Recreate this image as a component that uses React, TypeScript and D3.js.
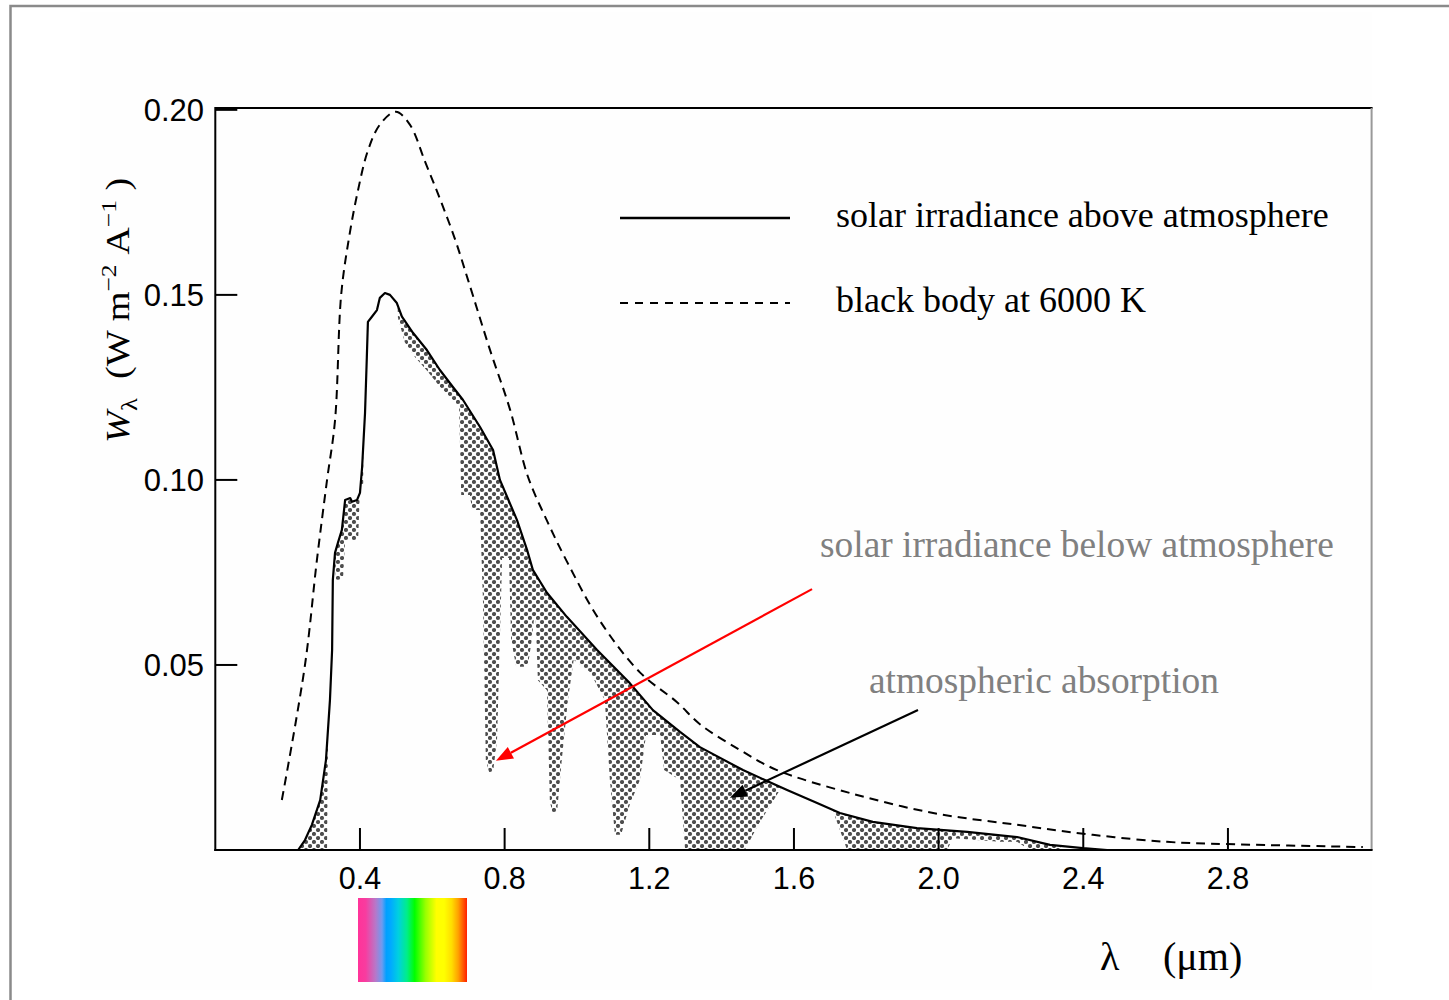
import React from 'react';
import * as d3 from 'd3';

const WIDTH = 1449;
const HEIGHT = 1000;

const xTicks = [0.4, 0.8, 1.2, 1.6, 2.0, 2.4, 2.8];
const yTicks = [0.05, 0.1, 0.15, 0.2];
const xTickLabels = ['0.4', '0.8', '1.2', '1.6', '2.0', '2.4', '2.8'];
const yTickLabels = ['0.05', '0.10', '0.15', '0.20'];

// black body at 6000 K (scaled), [wavelength um, W]
const blackBody: [number, number][] = [
  [0.184, 0.0135], [0.248, 0.05], [0.281, 0.0784], [0.309, 0.1], [0.331, 0.116],
  [0.348, 0.15], [0.369, 0.165], [0.394, 0.178], [0.422, 0.189], [0.455, 0.196],
  [0.499, 0.1995], [0.538, 0.196], [0.58, 0.186], [0.621, 0.176], [0.663, 0.165],
  [0.699, 0.154], [0.76, 0.135], [0.815, 0.119], [0.864, 0.101], [0.917, 0.089],
  [0.972, 0.078], [1.063, 0.062], [1.174, 0.048], [1.276, 0.04], [1.34, 0.034],
  [1.451, 0.027], [1.553, 0.0216], [1.755, 0.0154], [1.985, 0.01], [2.217, 0.0068],
  [2.426, 0.0041], [2.631, 0.0022], [2.797, 0.0016], [3.173, 0.0008],
];

// solar irradiance above atmosphere
const solarAbove: [number, number][] = [
  [0.229, 0], [0.248, 0.0027], [0.267, 0.0068], [0.29, 0.0135], [0.306, 0.0243],
  [0.317, 0.0405], [0.323, 0.0541], [0.325, 0.073], [0.331, 0.0803], [0.339, 0.083],
  [0.35, 0.0865], [0.359, 0.0946], [0.373, 0.0951], [0.378, 0.0941], [0.392, 0.0946],
  [0.4, 0.0965], [0.406, 0.1035], [0.414, 0.1181], [0.419, 0.1332], [0.422, 0.1427],
  [0.433, 0.1441], [0.447, 0.1459], [0.455, 0.1492], [0.469, 0.1505], [0.483, 0.15],
  [0.502, 0.1478], [0.516, 0.1441], [0.547, 0.1397], [0.585, 0.1351], [0.621, 0.1297],
  [0.657, 0.1251], [0.685, 0.1216], [0.732, 0.1143], [0.768, 0.1081], [0.787, 0.1],
  [0.807, 0.0954], [0.834, 0.0892], [0.862, 0.0811], [0.878, 0.0757], [0.917, 0.0695],
  [0.972, 0.063], [1.055, 0.0541], [1.146, 0.0451], [1.21, 0.0378], [1.285, 0.0319],
  [1.34, 0.0278], [1.459, 0.0216], [1.581, 0.0162], [1.664, 0.0127], [1.727, 0.01],
  [1.818, 0.0076], [1.94, 0.0059], [2.079, 0.0049], [2.217, 0.0035], [2.308, 0.0014],
  [2.399, 0.0005], [2.466, 0],
];

// solar irradiance below atmosphere (lower edge of the absorbed band)
const solarBelow: [number, number][] = [
  [0.201, 0], [0.309, 0], [0.314, 0.0568], [0.328, 0.0824], [0.334, 0.073],
  [0.353, 0.073], [0.359, 0.0838], [0.395, 0.0838], [0.4, 0.0981], [0.409, 0.0981],
  [0.411, 0.16], [0.5, 0.16], [0.505, 0.1438], [0.524, 0.1372], [0.552, 0.1332],
  [0.585, 0.1296], [0.621, 0.1252], [0.663, 0.121], [0.674, 0.1195], [0.68, 0.0959],
  [0.704, 0.0959], [0.71, 0.0919], [0.732, 0.0919], [0.74, 0.0676], [0.748, 0.0243],
  [0.757, 0.0211], [0.768, 0.0211], [0.779, 0.0297], [0.79, 0.0676], [0.793, 0.0789],
  [0.812, 0.0789], [0.818, 0.0568], [0.832, 0.0495], [0.864, 0.0495], [0.875, 0.0568],
  [0.881, 0.0622], [0.886, 0.0622], [0.892, 0.0459], [0.917, 0.0432], [0.925, 0.0135],
  [0.931, 0.0103], [0.945, 0.0103], [0.958, 0.0243], [0.975, 0.0405], [0.991, 0.0514],
  [1.036, 0.0481], [1.077, 0.0405], [1.091, 0.0189], [1.105, 0.0041], [1.122, 0.0041],
  [1.146, 0.0122], [1.174, 0.0189], [1.191, 0.0311], [1.23, 0.0311], [1.241, 0.0216],
  [1.285, 0.0189], [1.299, 0], [1.464, 0], [1.506, 0.0076], [1.539, 0.0127],
  [1.561, 0.0162], [1.575, 0.0189], [1.7, 0.0149], [1.711, 0.0097], [1.747, 0],
  [2.023, 0], [2.04, 0.0032], [2.17, 0.0022], [2.217, 0.0022], [2.252, 0],
  [2.335, 0], [2.346, 0.0032], [3.3, 0.003],
];

const legendLabels = ['solar irradiance above atmosphere', 'black body at 6000 K'];
const annotationLabels = ['solar irradiance below atmosphere', 'atmospheric absorption'];
// arrows in data coordinates: [fromX, fromY, toX, toY]
const redArrow = [1.65, 0.0705, 0.776, 0.0241];
const blackArrow = [1.943, 0.0378, 1.423, 0.0141];

const spectrumStops: [number, string][] = [
  [0, '#ff3399'], [0.07, '#f83c9f'], [0.16, '#b877c8'], [0.22, '#6e9bf0'],
  [0.26, '#00a0ff'], [0.3, '#00aaff'], [0.37, '#00d0e0'], [0.45, '#00ee88'],
  [0.52, '#00ff00'], [0.62, '#99ff00'], [0.72, '#ffff00'], [0.79, '#ffff00'],
  [0.86, '#ffdd00'], [0.92, '#ffa000'], [1, '#ff2000'],
];

const serif = '"Liberation Serif", "Times New Roman", serif';
const sans = '"Liberation Sans", Arial, sans-serif';

function Arrow({ d, x, y, color }: { d: number[]; x: any; y: any; color: string }) {
  const x1 = x(d[0]), y1 = y(d[1]), x2 = x(d[2]), y2 = y(d[3]);
  const ang = Math.atan2(y2 - y1, x2 - x1);
  const L = 17, Wd = 6.5;
  const bx = x2 - L * Math.cos(ang), by = y2 - L * Math.sin(ang);
  const px = -Math.sin(ang) * Wd, py = Math.cos(ang) * Wd;
  return (
    <g>
      <line x1={x1} y1={y1} x2={bx} y2={by} stroke={color} strokeWidth={2.2} />
      <path d={`M${x2},${y2}L${bx + px},${by + py}L${bx - px},${by - py}Z`} fill={color} />
    </g>
  );
}

export default function App() {
  const left = 215.3, right = 1372.6, top = 108, bottom = 850;
  const x = d3.scaleLinear().domain([0, 3.2]).range([left, right]);
  const y = d3.scaleLinear().domain([0, 0.2005]).range([bottom, top]);

  const line = d3.line<[number, number]>().x(d => x(d[0])).y(d => y(d[1]));
  const smooth = d3.line<[number, number]>().x(d => x(d[0])).y(d => y(d[1])).curve(d3.curveCatmullRom.alpha(0.5));
  const underArea = d3.area<[number, number]>().x(d => x(d[0])).y0(y(0)).y1(d => y(d[1]));
  const overArea = d3.area<[number, number]>().x(d => x(d[0])).y0(top).y1(d => y(d[1]));

  return (
    <svg width={WIDTH} height={HEIGHT} style={{ position: 'absolute', left: 0, top: 0, background: '#fff' }}>
      <defs>
        <pattern id="dots" width={8} height={8} patternUnits="userSpaceOnUse">
          <circle cx={2} cy={2} r={2.1} fill="#4d4d4d" />
          <circle cx={6} cy={6} r={2.1} fill="#4d4d4d" />
        </pattern>
        <clipPath id="underAbove">
          <path d={underArea(solarAbove) || ''} />
        </clipPath>
        <linearGradient id="spectrum" x1="0" x2="1" y1="0" y2="0">
          {spectrumStops.map(([o, c], i) => (
            <stop key={i} offset={o} stopColor={c} />
          ))}
        </linearGradient>
      </defs>

      <rect x={0} y={0} width={WIDTH} height={HEIGHT} fill="#fff" />
      <rect x={80} y={12} width={1292} height={978} fill="#fefefe" />
      <rect x={10.5} y={6} width={1500} height={1100} fill="none" stroke="#8a8a8a" strokeWidth={2.5} />

      {/* absorption dots */}
      <path d={overArea(solarBelow) || ''} fill="url(#dots)" clipPath="url(#underAbove)" />

      {/* curves */}
      <path d={smooth(blackBody) || ''} fill="none" stroke="#000" strokeWidth={2} strokeDasharray="9,6" />
      <path d={line(solarAbove) || ''} fill="none" stroke="#000" strokeWidth={2.2} strokeLinejoin="round" />

      {/* frame */}
      <line x1={left} y1={top} x2={right} y2={top} stroke="#000" strokeWidth={2} />
      <line x1={right - 1} y1={top} x2={right - 1} y2={bottom} stroke="#999" strokeWidth={2} />
      <line x1={left} y1={top - 1} x2={left} y2={bottom + 1} stroke="#000" strokeWidth={2} />
      <line x1={left - 1} y1={bottom} x2={right} y2={bottom} stroke="#000" strokeWidth={2} />

      {/* ticks */}
      {xTicks.map((t, i) => (
        <g key={'x' + i}>
          <line x1={x(t)} x2={x(t)} y1={bottom} y2={bottom - 22} stroke="#000" strokeWidth={2} />
          <text x={x(t)} y={889} textAnchor="middle" fontFamily={sans} fontSize={30.5} fill="#000">
            {xTickLabels[i]}
          </text>
        </g>
      ))}
      {yTicks.map((t, i) => (
        <g key={'y' + i}>
          <line x1={left} x2={left + 22} y1={y(t)} y2={y(t)} stroke="#000" strokeWidth={2} />
          <text x={204} y={y(t) + 11} textAnchor="end" fontFamily={sans} fontSize={31} fill="#000">
            {yTickLabels[i]}
          </text>
        </g>
      ))}

      {/* y label */}
      <text transform="translate(129,443) rotate(-90) scale(1.16,1)" fontFamily={serif} fontSize={33} fill="#000">
        <tspan fontStyle="italic">W</tspan>
        <tspan fontSize={23} dy={8}>λ</tspan>
        <tspan dy={-8}>{'\u00a0\u00a0(W m'}</tspan>
        <tspan fontSize={22} dy={-13}>−2</tspan>
        <tspan dy={13}>{'\u00a0A'}</tspan>
        <tspan fontSize={22} dy={-13}>−1</tspan>
        <tspan dy={13}>{'\u00a0)'}</tspan>
      </text>

      {/* x label */}
      <text x={1100} y={970} fontFamily={serif} fontSize={40} fill="#000">λ</text>
      <text x={1163} y={970} fontFamily={serif} fontSize={40} fill="#000">(μm)</text>

      {/* spectrum */}
      <rect x={358} y={898} width={109} height={84} fill="url(#spectrum)" />

      {/* legend */}
      <line x1={620} x2={790} y1={218} y2={218} stroke="#000" strokeWidth={2.5} />
      <line x1={620} x2={790} y1={303} y2={303} stroke="#000" strokeWidth={2} strokeDasharray="8,7" />
      <text x={836} y={227} fontFamily={serif} fontSize={36} fill="#000">{legendLabels[0]}</text>
      <text x={836} y={312} fontFamily={serif} fontSize={36} fill="#000">{legendLabels[1]}</text>

      {/* annotations */}
      <text x={820} y={557} fontFamily={serif} fontSize={37.4} fill="#808080">{annotationLabels[0]}</text>
      <text x={869} y={693} fontFamily={serif} fontSize={37.4} fill="#808080">{annotationLabels[1]}</text>
      <Arrow d={redArrow} x={x} y={y} color="#ff0000" />
      <Arrow d={blackArrow} x={x} y={y} color="#000" />
    </svg>
  );
}
